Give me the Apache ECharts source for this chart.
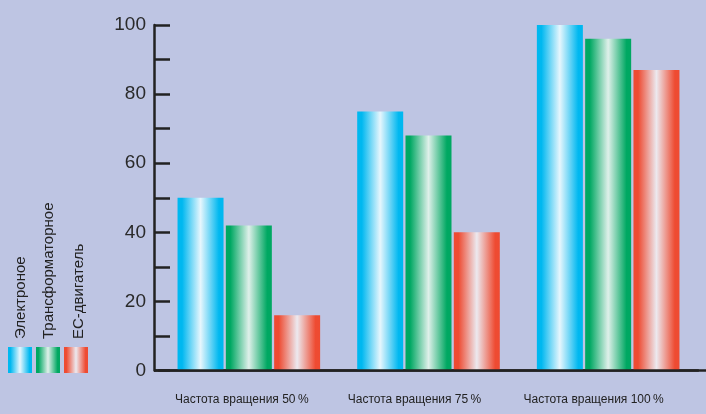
<!DOCTYPE html>
<html>
<head>
<meta charset="utf-8">
<script src="https://cdn.jsdelivr.net/npm/echarts@6/dist/echarts.min.js"></script>
<style>
html,body{margin:0;padding:0;background:#bec5e3;}
#c{width:706px;height:414px;}
</style>
</head>
<body>
<div id="c"></div>
<script>
var categories = ['Частота вращения 50\u2009%', 'Частота вращения 75\u2009%', 'Частота вращения 100\u2009%'];
var seriesNames = ['Электроное', 'Трансформаторное', 'EC-двигатель'];
var electronic = [50, 75, 100];
var transformer = [42, 68, 96];
var ecMotor = [16, 40, 87];
var yMin = 0, yMax = 100, yTickStep = 10, yLabelStep = 20;

function grad(edge, light) {
  return new echarts.graphic.LinearGradient(0, 0, 1, 0, [
    {offset: 0, color: edge},
    {offset: 0.1, color: edge},
    {offset: 0.5, color: light},
    {offset: 0.9, color: edge},
    {offset: 1, color: edge}
  ]);
}
var colors = [
  ['#00b8f0', '#e6f6fd'],
  ['#00a862', '#dff0ea'],
  ['#ee4b32', '#ece9ef']
];
var values = [electronic, transformer, ecMotor];

var chart = echarts.init(document.getElementById('c'), null, {renderer: 'canvas'});
var labelFont = 'Liberation Sans, Arial, sans-serif';

var option = {
  backgroundColor: '#bec5e3',
  animation: false,
  grid: {left: 159, right: 8, top: 25, bottom: 43.5, containLabel: false},
  xAxis: {
    type: 'category',
    data: categories,
    axisLine: {lineStyle: {color: '#222', width: 2.5}},
    axisTick: {show: false},
    axisLabel: {
      interval: 0,
      margin: 23,
      color: '#222',
      fontFamily: labelFont,
      fontSize: 12,
      formatter: function (v, i) { return '{s' + i + '|' + v + '}'; },
      rich: {
        s0: {padding: [0, 14, 0, 0], fontFamily: labelFont, fontSize: 12, color: '#222'},
        s1: {padding: [0, 28, 0, 0], fontFamily: labelFont, fontSize: 12, color: '#222'},
        s2: {padding: [0, 29, 0, 0], fontFamily: labelFont, fontSize: 12, color: '#222'}
      }
    }
  },
  yAxis: {
    type: 'value',
    min: yMin, max: yMax, interval: yTickStep,
    offset: 5,
    splitLine: {show: false},
    axisLine: {show: true, lineStyle: {color: '#222', width: 2.5}},
    axisTick: {show: true, inside: true, length: 16, lineStyle: {color: '#222', width: 2.5}},
    axisLabel: {
      margin: 8,
      color: '#2a2a2a',
      fontFamily: labelFont,
      fontSize: 19,
      formatter: function (v) { return v % yLabelStep === 0 ? String(v) : ''; }
    }
  },
  series: values.map(function (d, i) {
    return {
      name: seriesNames[i],
      type: 'bar',
      data: d,
      barWidth: 46,
      barGap: '5%',
      itemStyle: {color: grad(colors[i][0], colors[i][1])}
    };
  })
};
chart.setOption(option);

// legend drawn as graphic (rotated text) + axis line extension
var y0 = chart.convertToPixel({yAxisIndex: 0}, 0);
var legendGraphics = [];
var swX = [8, 36, 64];
seriesNames.forEach(function (n, i) {
  legendGraphics.push({
    type: 'rect',
    shape: {x: swX[i], y: 347, width: 24, height: 26},
    style: {fill: grad(colors[i][0], colors[i][1])}
  });
  legendGraphics.push({
    type: 'text',
    x: swX[i] + 12 + (i === 2 ? 3 : 1),
    y: 339,
    rotation: Math.PI / 2,
    style: {
      text: n,
      fill: '#222',
      font: '15px Liberation Sans, Arial, sans-serif',
      textAlign: 'left',
      textVerticalAlign: 'middle'
    }
  });
});
legendGraphics.push({
  type: 'line',
  shape: {x1: 154, y1: y0, x2: 706, y2: y0},
  style: {stroke: '#222', lineWidth: 2.5},
  z: 10
});
chart.setOption({graphic: legendGraphics});
</script>
</body>
</html>
